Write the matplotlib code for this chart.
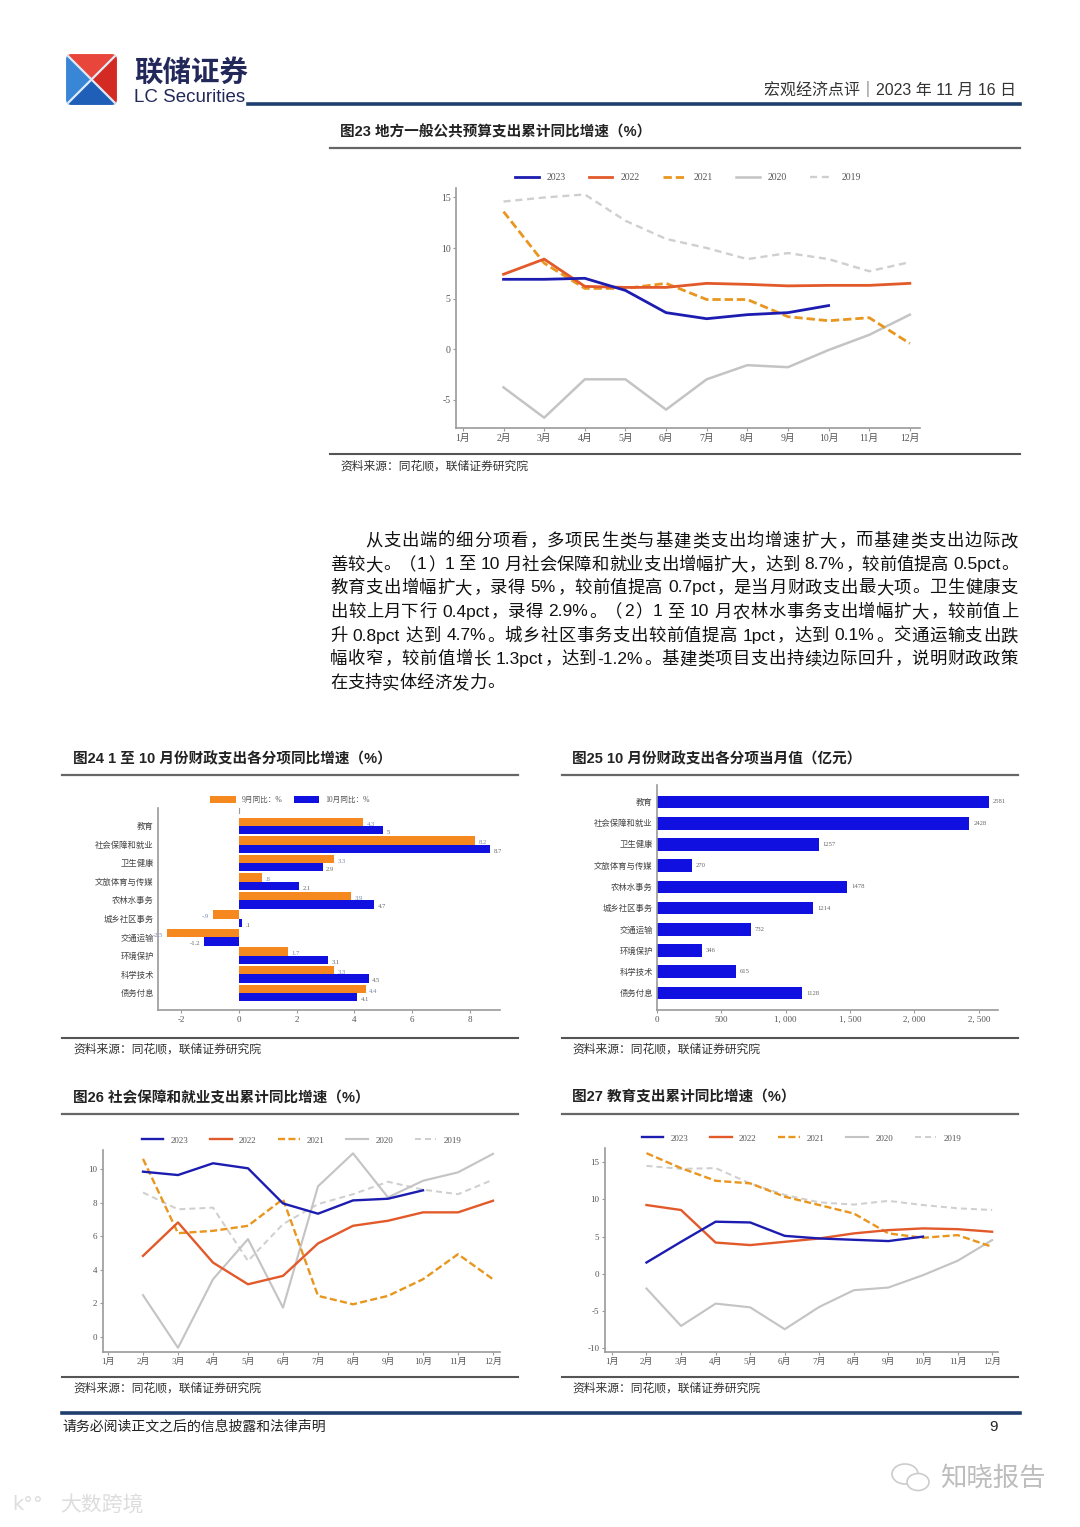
import re
import numpy as np
import matplotlib
matplotlib.use('Agg')
import matplotlib.pyplot as plt
from matplotlib.lines import Line2D
from matplotlib.patches import Polygon, FancyBboxPatch, Ellipse

W, H = 1080, 1527
CJK = 'Noto Sans CJK SC'
SERIF = ['Liberation Serif', CJK]
SANS = ['Liberation Sans', CJK]
plt.rcParams['font.family'] = SANS
plt.rcParams['axes.unicode_minus'] = False

# ---------------- data ----------------
months = ['1月', '2月', '3月', '4月', '5月', '6月', '7月', '8月', '9月', '10月', '11月', '12月']
years = ['2023', '2022', '2021', '2020', '2019']

# fig 23: local general budget expenditure, cumulative yoy (from Feb)
f23_2023 = [6.9, 6.9, 7.0, 5.8, 3.6, 3.0, 3.4, 3.6, 4.3]
f23_2022 = [7.4, 8.9, 6.2, 6.1, 6.1, 6.5, 6.4, 6.25, 6.3, 6.3, 6.5]
f23_2021 = [13.6, 8.5, 6.0, 6.0, 6.5, 4.9, 4.9, 3.2, 2.8, 3.1, 0.55]
f23_2020 = [-3.8, -6.8, -3.0, -3.0, -6.0, -3.0, -1.6, -1.8, -0.1, 1.4, 3.4]
f23_2019 = [14.6, 15.0, 15.3, 12.7, 10.9, 10.0, 8.9, 9.5, 8.9, 7.7, 8.6]

# fig 24 / 25
categories = ['教育', '社会保障和就业', '卫生健康', '文旅体育与传媒', '农林水事务',
              '城乡社区事务', '交通运输', '环境保护', '科学技术', '债务付息']
sep_yoy = [4.3, 8.2, 3.3, 0.8, 3.9, -0.9, -2.5, 1.7, 3.3, 4.4]
oct_yoy = [5.0, 8.7, 2.9, 2.1, 4.7, 0.1, -1.2, 3.1, 4.5, 4.1]
oct_amount = [2581, 2428, 1257, 270, 1478, 1214, 732, 346, 615, 1128]
f24_xticks = [-2, 0, 2, 4, 6, 8]
f25_xticks = [0, 500, 1000, 1500, 2000, 2500]
f25_xticklabels = ['0', '500', '1, 000', '1, 500', '2, 000', '2, 500']

# fig 26: social security & employment, cumulative yoy
f26_2023 = [9.84, 9.64, 10.34, 10.04, 7.95, 7.34, 8.13, 8.23, 8.73]
f26_2022 = [4.83, 6.82, 4.43, 3.14, 3.64, 5.57, 6.62, 6.92, 7.42, 7.42, 8.11]
f26_2021 = [10.6, 6.18, 6.32, 6.62, 8.21, 2.45, 1.95, 2.45, 3.44, 4.93, 3.44]
f26_2020 = [2.49, -0.64, 3.44, 5.83, 1.75, 8.97, 10.93, 8.31, 9.3, 9.8, 10.9]
f26_2019 = [8.6, 7.6, 7.7, 4.53, 6.72, 7.91, 8.5, 9.24, 8.77, 8.5, 9.36]

# fig 27: education, cumulative yoy
f27_2023 = [1.52, 4.3, 7.0, 6.9, 5.1, 4.75, 4.57, 4.4, 5.0]
f27_2022 = [9.24, 8.57, 4.2, 3.86, 4.3, 4.75, 5.43, 5.87, 6.1, 6.0, 5.65]
f27_2021 = [16.2, 14.2, 12.5, 12.15, 10.36, 9.24, 8.1, 5.43, 4.84, 5.2, 3.63]
f27_2020 = [-1.97, -7.0, -4.0, -4.5, -7.44, -4.44, -2.2, -1.84, -0.18, 1.75, 4.53]
f27_2019 = [14.5, 14.1, 14.2, 12.15, 10.6, 9.6, 9.3, 9.8, 9.24, 8.8, 8.57]

paragraph = [
    '从支出端的细分项看，多项民生类与基建类支出均增速扩大，而基建类支出边际改',
    '善较大。（1）1 至 10 月社会保障和就业支出增幅扩大，达到 8.7%，较前值提高 0.5pct。',
    '教育支出增幅扩大，录得 5%，较前值提高 0.7pct，是当月财政支出最大项。卫生健康支',
    '出较上月下行 0.4pct，录得 2.9%。（2）1 至 10 月农林水事务支出增幅扩大，较前值上',
    '升 0.8pct 达到 4.7%。城乡社区事务支出较前值提高 1pct，达到 0.1%。交通运输支出跌',
    '幅收窄，较前值增长 1.3pct，达到-1.2%。基建类项目支出持续边际回升，说明财政政策',
    '在支持实体经济发力。',
]

# ---------------- style ----------------
NAVY = '#1F3E6E'
C23, C22, C21, C20, C19 = '#1C1CB0', '#E2592A', '#E8961E', '#C4C4C4', '#CFCFCF'
BAR_OR, BAR_BL = '#F5891F', '#1010E0'
styles = {
    '2023': (C23, '-', 2.0),
    '2022': (C22, '-', 2.0),
    '2021': (C21, (0, (3, 1.4)), 2.0),
    '2020': (C20, '-', 1.8),
    '2019': (C19, (0, (3, 2)), 1.7),
}

fig = plt.figure(figsize=(W / 100, H / 100), dpi=100)


def fx(x):
    return x / W


def fy(y):
    return 1 - y / H


def box(x0, y0, x1, y1):
    return [x0 / W, 1 - y1 / H, (x1 - x0) / W, (y1 - y0) / H]


def ptext(x, y, s, **kw):
    kw.setdefault('va', 'center')
    return fig.text(fx(x), fy(y), s, **kw)


def hline(x0, x1, y, color='#555555', lw=1.5):
    fig.add_artist(Line2D([fx(x0), fx(x1)], [fy(y), fy(y)], color=color, lw=lw))


def style_axes(ax, size=6.5):
    for s in ['top', 'right']:
        ax.spines[s].set_visible(False)
    for s in ['left', 'bottom']:
        ax.spines[s].set_color('#9a9a9a')
        ax.spines[s].set_linewidth(1.2)
    ax.tick_params(length=2, width=0.8, color='#9a9a9a', labelsize=size,
                   labelcolor='#555555', pad=2)
    for t in ax.get_xticklabels() + ax.get_yticklabels():
        t.set_family(SERIF)


def line_chart(rect, data, xlim, ylim, yticks, lw_scale=1.0, tick_size=7, leg_size=7):
    ax = fig.add_axes(box(*rect))
    for i, (yr, vals) in enumerate(zip(years, data)):
        col, ls, lw = styles[yr]
        ax.plot(range(2, 2 + len(vals)), vals, color=col, ls=ls, lw=lw * lw_scale,
                label=yr, zorder=10 - i)
    ax.set_xlim(*xlim)
    ax.set_ylim(*ylim)
    ax.set_xticks(range(1, 13))
    ax.set_xticklabels(months)
    ax.set_yticks(yticks)
    style_axes(ax, tick_size)
    leg = ax.legend(ncol=5, loc='lower center', bbox_to_anchor=(0.5, 1.0), frameon=False,
                    prop={'family': SERIF, 'size': leg_size}, handlelength=2.4,
                    columnspacing=2.4, borderaxespad=0.2)
    for t in leg.get_texts():
        t.set_color('#555555')
    return ax


def short(v):
    s = f'{v:g}'
    if s.startswith('0.'):
        s = s[1:]
    if s.startswith('-0.'):
        s = '-' + s[2:]
    return s


# ---------------- header ----------------
lax = fig.add_axes(box(65, 53, 118, 106))
lax.set_xlim(0, 1)
lax.set_ylim(0, 1)
lax.axis('off')
clip = FancyBboxPatch((0.02, 0.02), 0.96, 0.96, boxstyle='round,pad=0,rounding_size=0.1',
                      fc='none', ec='none')
lax.add_patch(clip)
for pts, col in [([(0, 0), (0, 1), (0.5, 0.5)], '#3A86D6'),
                 ([(0, 1), (1, 1), (0.5, 0.5)], '#E8463A'),
                 ([(1, 1), (1, 0), (0.5, 0.5)], '#D42A24'),
                 ([(0, 0), (1, 0), (0.5, 0.5)], '#1F5FB8')]:
    p = Polygon(pts, closed=True, fc=col, ec='none')
    lax.add_patch(p)
    p.set_clip_path(clip)
for a, b in [((0.05, 0.95), (0.95, 0.05)), ((0.05, 0.05), (0.95, 0.95))]:
    ln = Line2D([a[0], b[0]], [a[1], b[1]], color='#DDEBF8', lw=1.6)
    lax.add_line(ln)
    ln.set_clip_path(clip)

ptext(134, 73, '联储证券', fontsize=20.5, fontweight='bold', color='#22285A', family=SANS)
ptext(134, 97, 'LC Securities', fontsize=13.5, color='#22285A', family=SANS)
ptext(1016, 89, '宏观经济点评｜2023 年 11 月 16 日', fontsize=11.5, color='#333333',
      ha='right', family=SANS)
hline(248, 1020, 104, NAVY, 2.6)

# ---------------- fig 23 ----------------
ptext(340, 132, '图23 地方一般公共预算支出累计同比增速（%）', fontsize=10.5,
      fontweight='bold', color='#222222')
hline(330, 1020, 148, '#666666', 1.6)
line_chart((456, 188, 920, 428), [f23_2023, f23_2022, f23_2021, f23_2020, f23_2019],
           (0.83, 12.25), (-7.82, 15.94), [-5, 0, 5, 10, 15])
hline(330, 1020, 454, '#555555', 1.5)
ptext(340, 467, '资料来源：同花顺，联储证券研究院', fontsize=8.5, color='#333333', family=SERIF)

# ---------------- paragraph ----------------
renderer = fig.canvas.get_renderer()
BODY = ['Liberation Sans', CJK]


def is_cjk(ch):
    return len(ch) == 1 and ord(ch) > 0x2E7F


def para_line(y, s, x0, x1, size, justify=True):
    em = size * 100 / 72
    toks = re.findall(r'[0-9A-Za-z.%\-]+| |.', s)
    widths, arts = [], []
    for tok in toks:
        if tok == ' ':
            widths.append(em * 0.25)
            arts.append(None)
            continue
        t = ptext(0, y, tok, fontsize=size, family=BODY, color='#111111')
        widths.append(em if is_cjk(tok) else t.get_window_extent(renderer).width)
        arts.append(t)
    gap = (x1 - x0 - sum(widths)) / (len(toks) - 1) if justify else 0.0
    pos = x0
    for tok, w, t in zip(toks, widths, arts):
        if t is not None:
            if is_cjk(tok):
                if tok in '，。、：；）':
                    t.set_ha('left')
                    t.set_x(fx(pos + 1))
                elif tok == '（':
                    t.set_ha('right')
                    t.set_x(fx(pos + w - 1))
                else:
                    t.set_ha('center')
                    t.set_x(fx(pos + w / 2))
            else:
                t.set_ha('left')
                t.set_x(fx(pos))
        pos += w + gap


para_y = [541, 565, 588, 612, 636, 659, 683]
for i, (y, s) in enumerate(zip(para_y, paragraph)):
    x0 = 365 if i == 0 else 330
    para_line(y, s, x0, 1018, 12.5, justify=(i < len(paragraph) - 1))

# ---------------- fig 24 ----------------
ptext(73, 759, '图24 1 至 10 月份财政支出各分项同比增速（%）', fontsize=10.5,
      fontweight='bold', color='#222222')
hline(62, 518, 775, '#666666', 1.6)
ax24 = fig.add_axes(box(158, 808, 500, 1010))
yy = np.arange(len(categories))
ax24.barh(yy - 0.225, sep_yoy, height=0.45, color=BAR_OR, label='9月同比：%')
ax24.barh(yy + 0.225, oct_yoy, height=0.45, color=BAR_BL, label='10月同比：%')
for i, (a, b) in enumerate(zip(sep_yoy, oct_yoy)):
    for v, dy, col in [(a, -0.1, '#7585AA'), (b, 0.35, '#666666')]:
        off = 0.12 if v >= 0 else -0.12
        ax24.text(v + off, i + dy, short(v), fontsize=4.8, color=col, family=SERIF,
                  ha='left' if v >= 0 else 'right', va='center')
ax24.set_xlim(-2.8, 9.05)
ax24.set_ylim(9.92, -0.97)
ax24.set_xticks(f24_xticks)
ax24.set_yticks(yy)
ax24.set_yticklabels(categories)
style_axes(ax24, 6.5)
ax24.tick_params(axis='y', length=0, labelsize=6, labelcolor='#444444', pad=3)
ax24.plot([0, 0], [-0.97, -0.72], color='#9a9a9a', lw=0.8)
leg = ax24.legend(ncol=2, loc='lower center', bbox_to_anchor=(0.386, 1.0), frameon=False,
                  prop={'family': SERIF, 'size': 5.5}, handlelength=3.3, handleheight=0.9,
                  columnspacing=1.5, borderaxespad=0.1)
for t in leg.get_texts():
    t.set_color('#555555')
hline(62, 518, 1038, '#555555', 1.5)
ptext(73, 1050, '资料来源：同花顺，联储证券研究院', fontsize=8.5, color='#333333', family=SERIF)

# ---------------- fig 25 ----------------
ptext(572, 759, '图25 10 月份财政支出各分项当月值（亿元）', fontsize=10.5,
      fontweight='bold', color='#222222')
hline(562, 1018, 775, '#666666', 1.6)
ax25 = fig.add_axes(box(657, 785, 998, 1010))
ax25.barh(yy, oct_amount, height=0.6, color=BAR_BL)
for i, v in enumerate(oct_amount):
    ax25.text(v + 30, i, f'{v}', fontsize=4.8, color='#666666', family=SERIF,
              ha='left', va='center')
ax25.set_xlim(0, 2650)
ax25.set_ylim(9.8, -0.8)
ax25.set_xticks(f25_xticks)
ax25.set_xticklabels(f25_xticklabels)
ax25.set_yticks(yy)
ax25.set_yticklabels(categories)
style_axes(ax25, 6.5)
ax25.tick_params(axis='y', length=0, labelsize=6, labelcolor='#444444', pad=3)
hline(562, 1018, 1038, '#555555', 1.5)
ptext(572, 1050, '资料来源：同花顺，联储证券研究院', fontsize=8.5, color='#333333', family=SERIF)

# ---------------- fig 26 ----------------
ptext(73, 1098, '图26 社会保障和就业支出累计同比增速（%）', fontsize=10.5,
      fontweight='bold', color='#222222')
hline(62, 518, 1114, '#666666', 1.6)
line_chart((103, 1150, 500, 1352), [f26_2023, f26_2022, f26_2021, f26_2020, f26_2019],
           (0.857, 12.2), (-0.89, 11.13), [0, 2, 4, 6, 8, 10], lw_scale=0.85,
           tick_size=6.5, leg_size=6.5)
hline(62, 518, 1377, '#555555', 1.5)
ptext(73, 1389, '资料来源：同花顺，联储证券研究院', fontsize=8.5, color='#333333', family=SERIF)

# ---------------- fig 27 ----------------
ptext(572, 1098, '图27 教育支出累计同比增速（%）', fontsize=10.5,
      fontweight='bold', color='#222222')
hline(562, 1018, 1114, '#666666', 1.6)
line_chart((605, 1148, 998, 1352), [f27_2023, f27_2022, f27_2021, f27_2020, f27_2019],
           (0.8, 12.17), (-10.5, 16.9), [-10, -5, 0, 5, 10, 15], lw_scale=0.85,
           tick_size=6.5, leg_size=6.5)
hline(562, 1018, 1377, '#555555', 1.5)
ptext(572, 1389, '资料来源：同花顺，联储证券研究院', fontsize=8.5, color='#333333', family=SERIF)

# ---------------- footer ----------------
hline(62, 1020, 1413, NAVY, 2.6)
ptext(62, 1427, '请务必阅读正文之后的信息披露和法律声明', fontsize=10, color='#222222', family=SERIF)
ptext(993, 1427, '9', fontsize=11, color='#222222', ha='center')

# watermarks
wax = fig.add_axes(box(888, 1458, 938, 1498))
wax.set_xlim(0, 50)
wax.set_ylim(40, 0)
wax.axis('off')
wax.add_patch(Ellipse((17, 16), 26, 20, fc='none', ec='#CCCCCC', lw=1.2))
wax.add_patch(Ellipse((30, 24), 22, 17, fc='white', ec='#CCCCCC', lw=1.2))
ptext(940, 1478, '知晓报告', fontsize=19, color='#BDBDBD')
ptext(12, 1504, 'k°°', fontsize=14, color='#DDDDDD', family=['DejaVu Sans'])
ptext(60, 1506, '大数跨境', fontsize=15, color='#DDDDDD')

fig.savefig('out.png', dpi=100)
